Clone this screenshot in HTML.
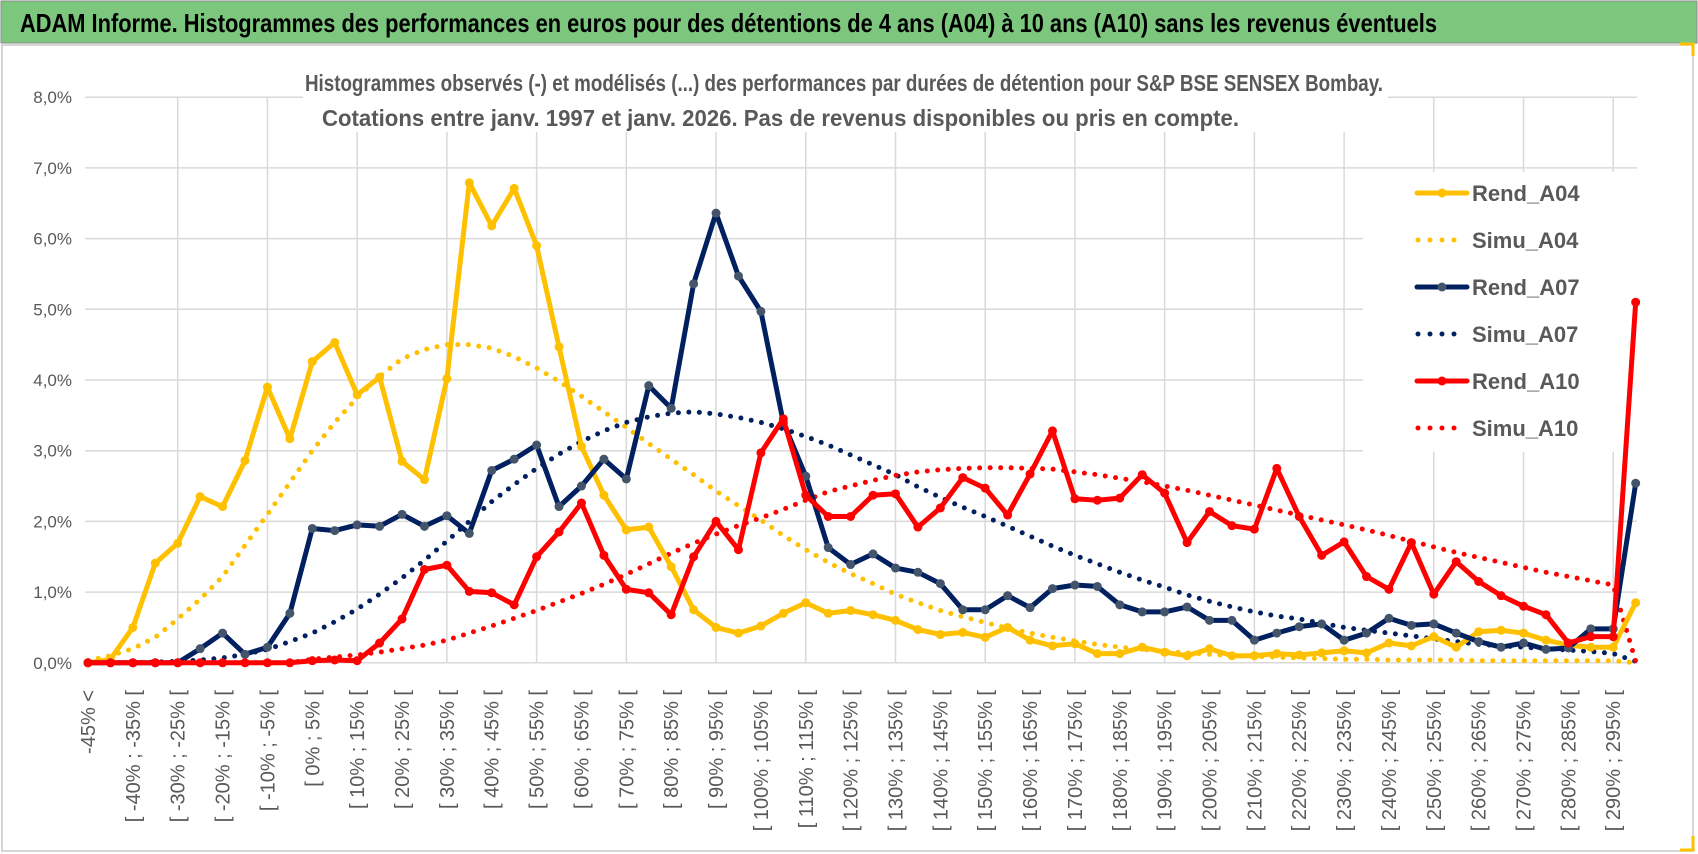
<!DOCTYPE html>
<html><head><meta charset="utf-8">
<style>
html,body{margin:0;padding:0;background:#fff;}
svg{display:block;}
text{font-family:"Liberation Sans Narrow","Liberation Sans",sans-serif;}
</style></head>
<body>
<svg id="chart" width="1698" height="854" viewBox="0 0 1698 854" xmlns="http://www.w3.org/2000/svg">
<rect x="0" y="0" width="1698" height="854" fill="#fff"/>
<rect x="1" y="1" width="1696" height="42" fill="#7DC67E" stroke="#888" stroke-width="1"/>
<text x="20" y="32" font-size="26" font-weight="bold" fill="#000" textLength="1417" lengthAdjust="spacingAndGlyphs">ADAM Informe. Histogrammes des performances en euros pour des détentions de 4 ans (A04) à 10 ans (A10) sans les revenus éventuels</text>
<rect x="2" y="45" width="1691" height="806" fill="none" stroke="#c8c8c8" stroke-width="1.5"/>
<path d="M1680 44 H1693 V56" fill="none" stroke="#FFC000" stroke-width="3"/>
<path d="M1680 850 H1693 V836" fill="none" stroke="#FFC000" stroke-width="3"/>
<g id="grid"></g>
<rect x="303" y="60" width="1085" height="72" fill="#fff"/>
<text x="305" y="91" font-size="23" font-weight="bold" fill="#595959" textLength="1078" lengthAdjust="spacingAndGlyphs">Histogrammes observés (-) et modélisés (...) des performances par durées de détention pour S&amp;P BSE SENSEX Bombay.</text>
<text x="322" y="126" font-size="23" font-weight="bold" fill="#595959" textLength="917" lengthAdjust="spacingAndGlyphs">Cotations entre janv. 1997 et janv. 2026. Pas de revenus disponibles ou pris en compte.</text>
<rect x="1363" y="172" width="274" height="280" fill="#fff"/>
<g id="series"></g>
<g id="axes"></g>
<g id="legend"></g>
</svg>
<script>
const categoriesCount = 70;
const yTicks = ["0,0%","1,0%","2,0%","3,0%","4,0%","5,0%","6,0%","7,0%","8,0%"];
const rendA04 = [0,0.05,0.5,1.41,1.69,2.35,2.21,2.86,3.9,3.17,4.26,4.53,3.79,4.04,2.85,2.59,4.02,6.79,6.18,6.71,5.9,4.47,3.06,2.37,1.88,1.92,1.36,0.75,0.5,0.42,0.52,0.7,0.85,0.7,0.74,0.68,0.6,0.47,0.4,0.43,0.36,0.5,0.32,0.24,0.27,0.13,0.13,0.22,0.15,0.1,0.2,0.1,0.1,0.13,0.11,0.14,0.17,0.14,0.28,0.24,0.37,0.22,0.44,0.46,0.42,0.32,0.25,0.22,0.22,0.85];
const simuA04 = [0.03,0.1,0.2,0.36,0.62,0.9,1.22,1.66,2.1,2.55,3.0,3.4,3.75,4.05,4.3,4.43,4.5,4.5,4.45,4.33,4.17,3.98,3.77,3.55,3.33,3.1,2.88,2.66,2.43,2.22,2.02,1.8,1.6,1.42,1.26,1.12,0.97,0.85,0.74,0.65,0.57,0.49,0.42,0.36,0.31,0.26,0.22,0.19,0.16,0.14,0.12,0.1,0.09,0.08,0.07,0.06,0.05,0.05,0.04,0.04,0.04,0.04,0.03,0.03,0.03,0.03,0.03,0.03,0.03,0];
const rendA07 = [0,0,0,0,0,0.2,0.42,0.12,0.22,0.7,1.9,1.87,1.95,1.93,2.1,1.93,2.08,1.83,2.72,2.88,3.08,2.21,2.5,2.88,2.6,3.92,3.6,5.36,6.36,5.47,4.97,3.4,2.64,1.63,1.39,1.54,1.34,1.28,1.12,0.75,0.75,0.95,0.78,1.05,1.1,1.08,0.82,0.72,0.72,0.79,0.6,0.6,0.32,0.42,0.51,0.55,0.32,0.42,0.63,0.53,0.55,0.42,0.3,0.22,0.28,0.19,0.21,0.48,0.48,2.54];
const simuA07 = [0,0,0,0.01,0.02,0.04,0.07,0.12,0.19,0.3,0.42,0.58,0.76,0.97,1.2,1.45,1.72,2.0,2.28,2.52,2.75,2.95,3.13,3.28,3.4,3.48,3.53,3.55,3.52,3.47,3.4,3.31,3.2,3.08,2.94,2.8,2.66,2.49,2.34,2.2,2.07,1.93,1.79,1.65,1.52,1.4,1.28,1.17,1.07,0.96,0.87,0.79,0.72,0.66,0.62,0.56,0.5,0.46,0.42,0.38,0.34,0.3,0.26,0.24,0.22,0.2,0.18,0.16,0.13,0.02];
const rendA10 = [0,0,0,0,0,0,0,0,0,0,0.03,0.04,0.03,0.28,0.62,1.32,1.38,1.01,0.99,0.82,1.5,1.85,2.26,1.52,1.04,0.99,0.68,1.5,2.0,1.6,2.97,3.45,2.37,2.07,2.07,2.37,2.39,1.92,2.19,2.62,2.47,2.09,2.67,3.28,2.32,2.3,2.33,2.66,2.4,1.7,2.14,1.94,1.89,2.75,2.07,1.52,1.71,1.22,1.04,1.7,0.97,1.43,1.15,0.95,0.8,0.68,0.28,0.37,0.37,5.1];
const simuA10 = [0,0,0,0,0,0,0,0,0,0,0.05,0.08,0.11,0.15,0.2,0.25,0.32,0.42,0.52,0.63,0.74,0.86,0.98,1.11,1.25,1.4,1.55,1.69,1.82,1.94,2.05,2.17,2.3,2.42,2.5,2.58,2.65,2.7,2.73,2.75,2.76,2.76,2.75,2.74,2.7,2.66,2.61,2.56,2.5,2.44,2.37,2.3,2.23,2.16,2.09,2.02,1.95,1.88,1.8,1.72,1.64,1.56,1.49,1.42,1.35,1.28,1.22,1.16,1.1,0.02];

const NS = "http://www.w3.org/2000/svg";
const X0 = 88, XSTEP = 22.43, Y0 = 662.8, YPER = 70.7;
function xs(i){ return X0 + i*XSTEP; }
function ys(v){ return Y0 - v*YPER; }
function mk(tag, attrs, parent){ const e=document.createElementNS(NS,tag); for(const k in attrs) e.setAttribute(k,attrs[k]); parent.appendChild(e); return e; }
function catLabel(i){ if(i===0) return "-45% <"; const lo=5*i-50; return "[ "+lo+"% ; "+(lo+5)+"% ["; }

const grid = document.getElementById('grid');
for(let t=0;t<yTicks.length;t++){
  const l = mk('line',{x1:85,x2:1637,y1:ys(t),y2:ys(t),stroke:'#d9d9d9','stroke-width':1.5},grid);
  
  
}
for(let i=4;i<categoriesCount;i+=4){
  const l = mk('line',{x1:xs(i),x2:xs(i),y1:ys(8),y2:ys(0),stroke:'#d9d9d9','stroke-width':1.5},grid);
  
  
}
const axes = document.getElementById('axes');
for(let t=0;t<yTicks.length;t++){
  const tx = mk('text',{x:72,y:ys(t)+6,'font-size':17,fill:'#595959','text-anchor':'end'},axes);
  tx.textContent = yTicks[t];
  
  
}
for(let i=0;i<categoriesCount;i+=2){
  const x = xs(i)+7, y = 690;
  const tx = mk('text',{x:x,y:y,'font-size':20,fill:'#595959','text-anchor':'end',transform:'rotate(-90 '+x+' '+y+')'},axes);
  tx.textContent = catLabel(i);
  
  
}

const seriesG = document.getElementById('series');
function dotted(arr,color,name){
  const d = arr.map((v,i)=>(i?'L':'M')+xs(i).toFixed(1)+' '+ys(v).toFixed(1)).join(' ');
  const p = mk('path',{d:d,fill:'none',stroke:color,'stroke-width':5,'stroke-linecap':'round','stroke-dasharray':'0 10.5'},seriesG);
  
  
}
function solid(arr,color,mcolor,name){
  const d = arr.map((v,i)=>(i?'L':'M')+xs(i).toFixed(1)+' '+ys(v).toFixed(1)).join(' ');
  const p = mk('path',{d:d,fill:'none',stroke:color,'stroke-width':5,'stroke-linejoin':'round'},seriesG);
  
  
  arr.forEach((v,i)=>{
    const c = mk('circle',{cx:xs(i),cy:ys(v),r:4.5,fill:mcolor},seriesG);
    
    
  });
}
dotted(simuA04,'#FFC000','simu-a04-line');
dotted(simuA07,'#002060','simu-a07-line');
dotted(simuA10,'#FF0000','simu-a10-line');
solid(rendA04,'#FFC000','#FFC000','rend-a04-line');
solid(rendA07,'#002060','#44546A','rend-a07-line');
solid(rendA10,'#FF0000','#FF0000','rend-a10-line');

const legend = document.getElementById('legend');
const legendNames = ["Rend_A04","Simu_A04","Rend_A07","Simu_A07","Rend_A10","Simu_A10"];
const legendColors = ["#FFC000","#FFC000","#002060","#002060","#FF0000","#FF0000"];
const legendMarkers = ["#FFC000",null,"#44546A",null,"#FF0000",null];
legendNames.forEach((n,k)=>{
  const y = 193 + k*47;
  const g = mk('g',{},legend);
  
  
  if(legendMarkers[k]){
    mk('line',{x1:1417,x2:1467,y1:y,y2:y,stroke:legendColors[k],'stroke-width':5,'stroke-linecap':'round'},g);
    mk('circle',{cx:1442,cy:y,r:4.5,fill:legendMarkers[k]},g);
  } else {
    mk('line',{x1:1418,x2:1466,y1:y,y2:y,stroke:legendColors[k],'stroke-width':5,'stroke-linecap':'round','stroke-dasharray':'0 12'},g);
  }
  const t = mk('text',{x:1472,y:y+8,'font-size':22,'font-weight':'bold',fill:'#595959'},g);
  t.textContent = n;
});
</script>
</body></html>
